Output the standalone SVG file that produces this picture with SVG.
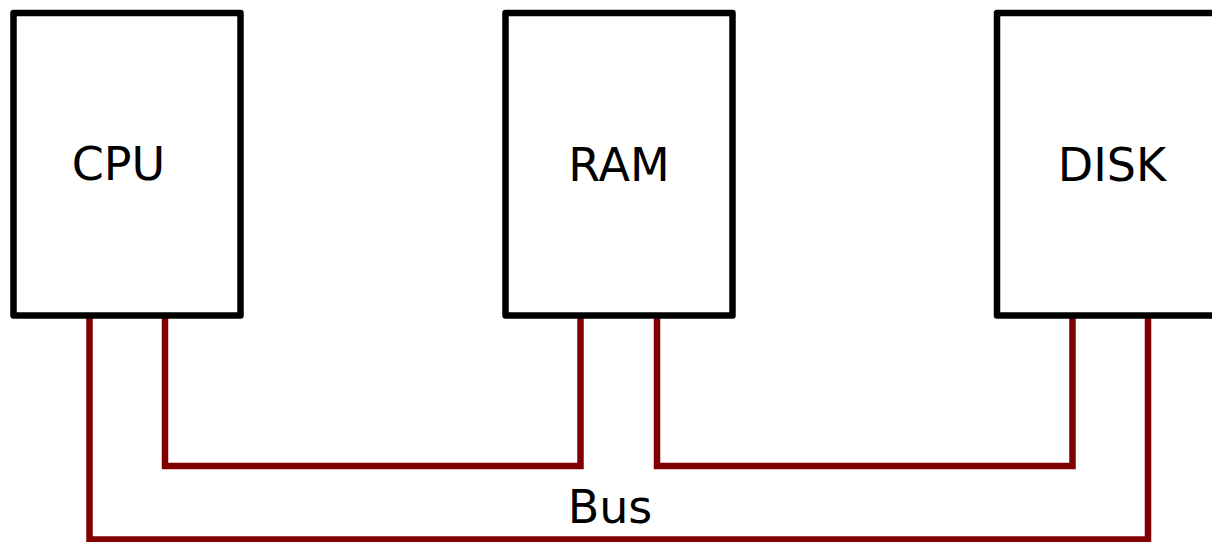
<svg xmlns="http://www.w3.org/2000/svg" width="1212" height="542" viewBox="0 0 1212 542">
<style>
.box{fill:#fff;stroke:#000;stroke-width:6.5;stroke-linejoin:round}
.wire{fill:none;stroke:#800000;stroke-width:6.5;stroke-linejoin:miter;stroke-linecap:butt}
.lbl{font-family:"DejaVu Sans",sans-serif;font-size:46px;fill:#000;text-anchor:middle}
</style>
<rect width="1212" height="542" fill="#fff"/>
<g id="connectors">
<polyline class="wire" points="89.5,316 89.5,539.5 1148,539.5 1148,316"/>
<polyline class="wire" points="165,316 165,466 580.5,466 580.5,316"/>
<polyline class="wire" points="657,316 657,466 1072.5,466 1072.5,316"/>
</g>
<g id="cpu">
<rect class="box" x="13.5" y="13" width="227" height="302.5"/>
<text class="lbl" x="118.5" y="180">CPU</text>
</g>
<g id="ram">
<rect class="box" x="505.5" y="13" width="227" height="302.5"/>
<text class="lbl" x="619" y="181">RAM</text>
</g>
<g id="disk">
<rect class="box" x="997" y="13" width="227" height="302.5"/>
<text class="lbl" x="1112" y="181">DISK</text>
</g>
<text class="lbl" x="610" y="523">Bus</text>
</svg>
